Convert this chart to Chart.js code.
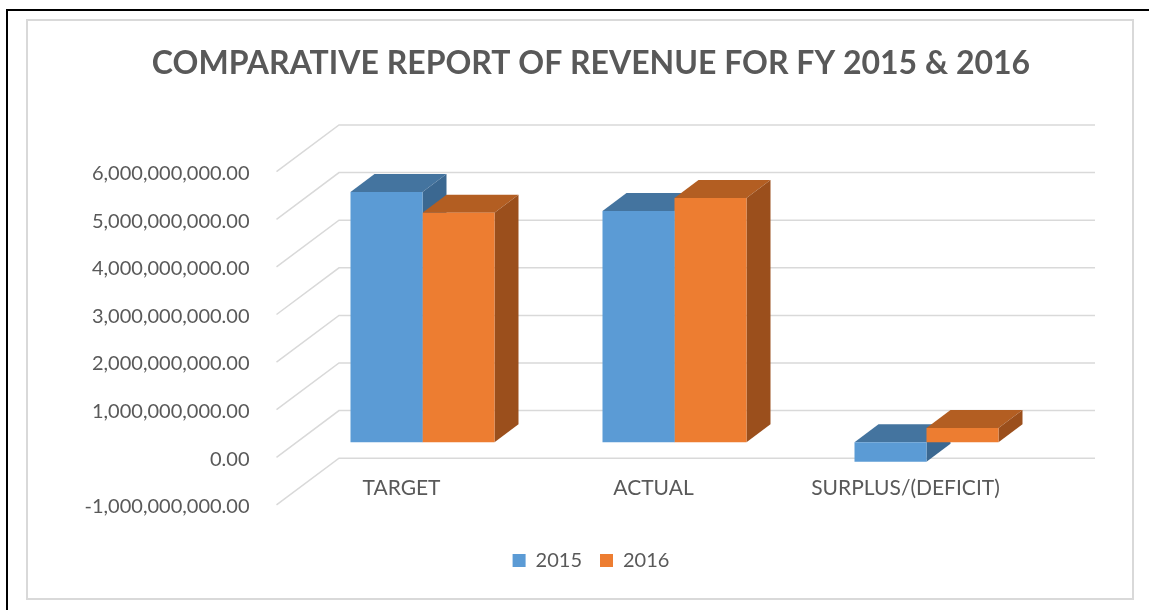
<!DOCTYPE html>
<html lang="en">
<head>
  <meta charset="UTF-8" />
  <title>Comparative Report of Revenue</title>
  <script src="https://cdn.jsdelivr.net/npm/chart.js"></script>
  <style>
    body { margin: 0; background: #fff; }
    canvas { display: block; }
  </style>
</head>
<body>
  <canvas id="revenueChart" width="1149" height="610"></canvas>

  <script>
    // data
    const categories = ['TARGET', 'ACTUAL', 'SURPLUS/(DEFICIT)'];
    const seriesNames = ['2015', '2016'];
    const revenue2015 = [5.26e9, 4.86e9, -0.41e9];
    const revenue2016 = [4.82e9, 5.13e9, 0.30e9];
    const yTicks = [-1e9, 0, 1e9, 2e9, 3e9, 4e9, 5e9, 6e9];

    const frontColors = ['#5b9bd5', '#ed7d31'];
    const topColors = ['#44749f', '#b35e22'];
    const sideColors = ['#3b6891', '#9b4f1c'];
    const textColor = '#595959';

    // fake 3d: offsets of the front plane, back wall and bar depth
    const FRONT = { dx: -20, dy: 15 };
    const BACK = { dx: 42.5, dy: -31.7 };
    const BAR = { dx: 24, dy: -18 };

    function poly(ctx, pts) {
      ctx.beginPath();
      ctx.moveTo(pts[0][0], pts[0][1]);
      pts.slice(1).forEach(p => ctx.lineTo(p[0], p[1]));
      ctx.closePath();
      ctx.fill();
    }

    const framePlugin = {
      id: 'frame',
      beforeDraw(chart) {
        const ctx = chart.ctx;
        ctx.save();
        ctx.fillStyle = '#fff';
        ctx.fillRect(0, 0, chart.width, chart.height);
        ctx.strokeStyle = '#d9d9d9';
        ctx.lineWidth = 2;
        ctx.strokeRect(27, 20, 1106, 579);
        ctx.strokeStyle = '#000';
        ctx.beginPath();
        ctx.moveTo(7, 610);
        ctx.lineTo(7, 10);
        ctx.lineTo(1149, 10);
        ctx.stroke();
        ctx.restore();
      }
    };

    const depthPlugin = {
      id: 'depth',
      beforeDatasetsDraw(chart) {
        const { ctx, chartArea, scales } = chart;
        const y = scales.y;
        ctx.save();
        ctx.strokeStyle = '#d9d9d9';
        ctx.lineWidth = 1.5;
        y.ticks.forEach(t => {
          const py = y.getPixelForValue(t.value);
          ctx.beginPath();
          ctx.moveTo(chartArea.left + FRONT.dx, py + FRONT.dy);
          ctx.lineTo(chartArea.left + BACK.dx, py + BACK.dy);
          ctx.lineTo(chartArea.right + BACK.dx, py + BACK.dy);
          ctx.stroke();
        });
        // top and side faces, front faces come from chart.js itself
        chart.data.labels.forEach((c, j) => {
          chart.data.datasets.forEach((ds, i) => {
            const bar = chart.getDatasetMeta(i).data[j];
            const p = bar.getProps(['x', 'y', 'base', 'width'], true);
            const l = p.x - p.width / 2, r = p.x + p.width / 2;
            const top = Math.min(p.y, p.base), bot = Math.max(p.y, p.base);
            ctx.fillStyle = topColors[i];
            poly(ctx, [[l, top], [l + BAR.dx, top + BAR.dy], [r + BAR.dx, top + BAR.dy], [r, top]]);
            ctx.fillStyle = sideColors[i];
            poly(ctx, [[r, top], [r + BAR.dx, top + BAR.dy], [r + BAR.dx, bot + BAR.dy], [r, bot]]);
          });
        });
        ctx.restore();
      }
    };

    const revenueChart = new Chart(document.getElementById('revenueChart'), {
      type: 'bar',
      data: {
        labels: categories,
        datasets: [
          { label: seriesNames[0], data: revenue2015, backgroundColor: frontColors[0] },
          { label: seriesNames[1], data: revenue2016, backgroundColor: frontColors[1] }
        ]
      },
      options: {
        responsive: false,
        animation: false,
        layout: { padding: { left: 33, right: 0, top: 0, bottom: 29.6 } },
        datasets: { bar: { categoryPercentage: 0.5714, barPercentage: 1, borderWidth: 0 } },
        plugins: {
          title: {
            display: true,
            text: 'COMPARATIVE REPORT OF REVENUE FOR FY 2015 & 2016',
            color: textColor,
            font: { family: 'Lato', size: 32, weight: 'bold' },
            padding: { top: 44, bottom: 74.3 }
          },
          legend: {
            position: 'bottom',
            labels: {
              color: textColor,
              font: { family: 'Lato', size: 20 },
              boxWidth: 13,
              boxHeight: 13,
              padding: 18
            }
          },
          tooltip: { enabled: false }
        },
        scales: {
          x: {
            grid: { display: false, drawTicks: false },
            border: { display: false },
            ticks: {
              color: textColor,
              font: { family: 'Lato', size: 21 },
              padding: 0,
              labelOffset: -21,
              maxRotation: 0
            },
            afterFit(scale) { scale.height = 56.8; }
          },
          y: {
            // bottom of the plot area sits a little above the -1bn wall line
            min: -0.7e9,
            max: yTicks[yTicks.length - 1],
            grid: { display: false, drawTicks: false },
            border: { display: false },
            afterBuildTicks(scale) { scale.ticks = yTicks.map(v => ({ value: v })); },
            ticks: {
              color: textColor,
              font: { family: 'Lato', size: 20 },
              padding: 47,
              labelOffset: 16.8,
              callback: v => v.toLocaleString('en-US', { minimumFractionDigits: 2, maximumFractionDigits: 2 })
            },
            afterFit(scale) { scale.width = 263.5; }
          },
          yRight: {
            type: 'linear',
            position: 'right',
            grid: { display: false, drawTicks: false },
            border: { display: false },
            ticks: { display: false },
            afterFit(scale) { scale.width = 96.5; }
          }
        }
      },
      plugins: [framePlugin, depthPlugin]
    });
  </script>
</body>
</html>
